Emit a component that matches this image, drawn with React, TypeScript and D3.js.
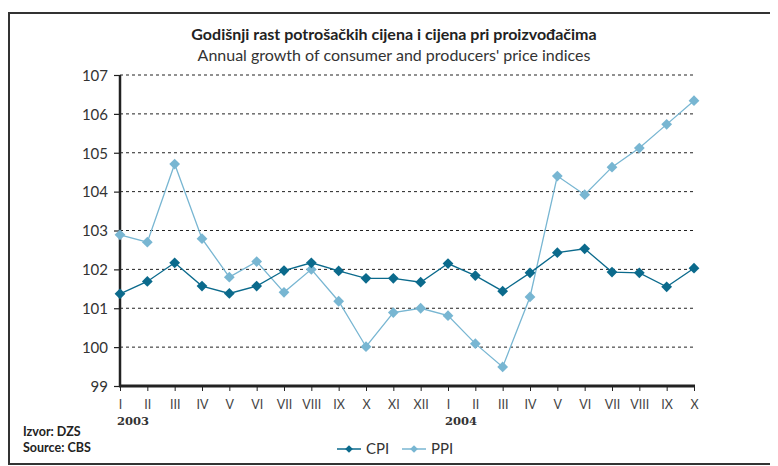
import * as d3 from "d3";
import { useEffect, useRef } from "react";

const months = ["I", "II", "III", "IV", "V", "VI", "VII", "VIII", "IX", "X", "XI", "XII",
  "I", "II", "III", "IV", "V", "VI", "VII", "VIII", "IX", "X"];

const cpi = [101.37, 101.69, 102.17, 101.57, 101.38, 101.57, 101.97, 102.17, 101.96, 101.77, 101.77, 101.67,
  102.15, 101.84, 101.44, 101.91, 102.43, 102.53, 101.93, 101.91, 101.55, 102.03];

const ppi = [102.89, 102.7, 104.71, 102.79, 101.8, 102.2, 101.41, 102.0, 101.18, 100.01, 100.89, 101.0,
  100.81, 100.09, 99.49, 101.29, 104.4, 103.92, 104.63, 105.12, 105.73, 106.34];

const yTicks = [99, 100, 101, 102, 103, 104, 105, 106, 107];

const years = [{ idx: 0, label: "2003" }, { idx: 12, label: "2004" }];

const series = [
  { name: "CPI", values: cpi, color: "#0b6a8c" },
  { name: "PPI", values: ppi, color: "#78b6d2" },
];

const font = "Lato, 'Open Sans', sans-serif";

export default function App() {
  const ref = useRef<SVGSVGElement>(null);

  useEffect(() => {
    const svg = d3.select(ref.current);
    svg.selectAll("*").remove();

    const x = d3.scaleLinear().domain([0, months.length - 1]).range([120, 694]);
    const y = d3.scaleLinear().domain([99, 107]).range([386, 75]);

    // frame
    svg.append("rect")
      .attr("x", 9).attr("y", 13).attr("width", 780).attr("height", 451)
      .attr("fill", "none").attr("stroke", "#333").attr("stroke-width", 2);

    svg.append("text").attr("x", 394).attr("y", 40)
      .attr("text-anchor", "middle").attr("font-family", font).attr("font-weight", "bold")
      .attr("font-size", 16).attr("fill", "#222")
      .text("Godišnji rast potrošačkih cijena i cijena pri proizvođačima");
    svg.append("text").attr("x", 394).attr("y", 61)
      .attr("text-anchor", "middle").attr("font-family", font)
      .attr("font-size", 16).attr("fill", "#333")
      .text("Annual growth of consumer and producers' price indices");

    // grid
    svg.selectAll(".grid").data(yTicks.filter((t) => t > 99)).enter().append("line")
      .attr("x1", 120).attr("x2", 694)
      .attr("y1", (d) => y(d)).attr("y2", (d) => y(d))
      .attr("stroke", "#222").attr("stroke-width", 1).attr("stroke-dasharray", "3,3");

    // y axis
    const yAxis = svg.append("g").attr("transform", "translate(120,0)")
      .call(d3.axisLeft(y).tickValues(yTicks).tickSize(6).tickFormat(d3.format("d")));
    yAxis.select(".domain").attr("stroke", "#222").attr("stroke-width", 2.5).attr("d", `M0,${y(107)}V${y(99) + 1}`);
    yAxis.selectAll(".tick line").attr("stroke", "#222").attr("stroke-width", 1.2);
    yAxis.selectAll(".tick text").attr("font-family", font).attr("font-size", 15)
      .attr("fill", "#333").attr("x", -12).attr("dy", "0.35em");

    // x axis
    const xAxis = svg.append("g").attr("transform", "translate(0,386)")
      .call(d3.axisBottom(x).tickValues(d3.range(months.length)).tickSize(5)
        .tickFormat((d) => months[d as number]));
    xAxis.select(".domain").attr("stroke", "#222").attr("stroke-width", 3).attr("d", "M119,0H695");
    xAxis.selectAll(".tick line").attr("stroke", "#222").attr("stroke-width", 1);
    xAxis.selectAll(".tick text").attr("font-family", font).attr("font-size", 12.5)
      .attr("fill", "#444").attr("y", 14);

    svg.selectAll(".year").data(years).enter().append("text")
      .attr("x", (d) => x(d.idx) - 3).attr("y", 425)
      .attr("font-family", "'DejaVu Serif', 'Liberation Serif', serif").attr("font-weight", "bold")
      .attr("font-size", 11.5).attr("fill", "#333").text((d) => d.label);

    svg.append("text").attr("x", 23).attr("y", 436).attr("font-family", font)
      .attr("font-weight", "bold").attr("font-size", 12.5).attr("fill", "#222").text("Izvor: DZS");
    svg.append("text").attr("x", 23).attr("y", 452).attr("font-family", font)
      .attr("font-weight", "bold").attr("font-size", 12.5).attr("fill", "#222").text("Source: CBS");

    const line = d3.line<number>().x((_, i) => x(i)).y((d) => y(d));
    const diamond = d3.symbol().type(d3.symbolSquare).size(58);

    // draw PPI first so CPI sits on top
    [...series].reverse().forEach((s) => {
      svg.append("path").datum(s.values).attr("d", line)
        .attr("fill", "none").attr("stroke", s.color).attr("stroke-width", 1.3);
      svg.selectAll(`.m-${s.name}`).data(s.values).enter().append("path")
        .attr("d", diamond)
        .attr("transform", (d, i) => `translate(${x(i)},${y(d)}) rotate(45)`)
        .attr("fill", s.color);
    });

    // legend
    const lg = svg.append("g").attr("transform", "translate(337,449)");
    series.forEach((s, i) => {
      const g = lg.append("g").attr("transform", `translate(${i * 65},0)`);
      g.append("line").attr("x1", 0).attr("x2", 24).attr("stroke", s.color).attr("stroke-width", 1.5);
      g.append("path").attr("d", d3.symbol().type(d3.symbolSquare).size(30))
        .attr("transform", "translate(12,0) rotate(45)").attr("fill", s.color);
      g.append("text").attr("x", 29).attr("y", 0).attr("dy", "0.35em")
        .attr("font-family", font).attr("font-size", 15).attr("fill", "#333").text(s.name);
    });
  }, []);

  return <svg ref={ref} width={778} height={466} style={{ display: "block", margin: "-8px 0 0 -8px" }} />;
}
